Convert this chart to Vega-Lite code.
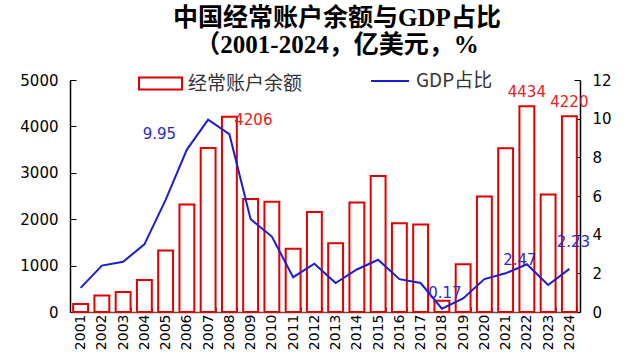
{
  "$schema": "https://vega.github.io/schema/vega-lite/v6.json",
  "width": 510,
  "height": 232,
  "autosize": {"type": "none"},
  "padding": {"left": 70, "top": 80, "right": 50, "bottom": 51},
  "background": "white",
  "title": {
    "text": ["中国经常账户余额与GDP占比", "（2001-2024，亿美元，%"],
    "font": "Liberation Serif, Noto Sans CJK SC",
    "fontSize": 25,
    "fontWeight": "bold",
    "color": "#000000",
    "anchor": "middle",
    "dx": 12,
    "offset": 3,
    "lineHeight": 27
  },
  "config": {"view": {"stroke": null}, "axis": {"grid": false}},
  "data": {
    "values": [
      {"year": "2001", "ca": 170, "ratio": 1.25},
      {"year": "2002", "ca": 354, "ratio": 2.4},
      {"year": "2003", "ca": 431, "ratio": 2.6},
      {"year": "2004", "ca": 689, "ratio": 3.5},
      {"year": "2005", "ca": 1324, "ratio": 5.8},
      {"year": "2006", "ca": 2318, "ratio": 8.4},
      {"year": "2007", "ca": 3532, "ratio": 9.95},
      {"year": "2008", "ca": 4206, "ratio": 9.2},
      {"year": "2009", "ca": 2433, "ratio": 4.8},
      {"year": "2010", "ca": 2378, "ratio": 3.9},
      {"year": "2011", "ca": 1361, "ratio": 1.8},
      {"year": "2012", "ca": 2154, "ratio": 2.5},
      {"year": "2013", "ca": 1482, "ratio": 1.5},
      {"year": "2014", "ca": 2360, "ratio": 2.2},
      {"year": "2015", "ca": 2930, "ratio": 2.7},
      {"year": "2016", "ca": 1913, "ratio": 1.7},
      {"year": "2017", "ca": 1887, "ratio": 1.5},
      {"year": "2018", "ca": 241, "ratio": 0.17},
      {"year": "2019", "ca": 1029, "ratio": 0.7},
      {"year": "2020", "ca": 2488, "ratio": 1.7},
      {"year": "2021", "ca": 3529, "ratio": 2.0},
      {"year": "2022", "ca": 4434, "ratio": 2.47},
      {"year": "2023", "ca": 2530, "ratio": 1.4},
      {"year": "2024", "ca": 4220, "ratio": 2.23}
    ]
  },
  "encoding": {
    "x": {
      "field": "year",
      "type": "ordinal",
      "scale": {"paddingInner": 0.3, "paddingOuter": 0.15},
      "axis": {
        "title": null,
        "labelAngle": -90,
        "labelFont": "DejaVu Sans",
        "labelFontSize": 14,
        "labelColor": "#000000",
        "domainColor": "#555555",
        "domainWidth": 1.5,
        "tickBand": "extent",
        "tickSize": -5,
        "tickColor": "#555555",
        "labelPadding": 7
      }
    }
  },
  "layer": [
    {
      "encoding": {
        "y": {
          "field": "ca",
          "type": "quantitative",
          "scale": {"domain": [0, 5000], "nice": false},
          "axis": {
            "title": null,
            "orient": "left",
            "values": [0, 1000, 2000, 3000, 4000, 5000],
            "format": "d",
            "labelFont": "DejaVu Sans",
            "labelFontSize": 15,
            "labelColor": "#000000",
            "domainColor": "#000000",
            "domainWidth": 1.5,
            "tickColor": "#000000",
            "tickSize": -6,
            "labelPadding": 18
          }
        }
      },
      "layer": [
        {
          "mark": {"type": "bar", "fill": "white", "strokeWidth": 2},
          "encoding": {
            "stroke": {
              "datum": "经常账户余额",
              "scale": {"range": ["#e00000"]},
              "legend": {
                "title": null,
                "orient": "none",
                "legendX": 68,
                "legendY": -19,
                "symbolType": "M-1,-0.28L1,-0.28L1,0.28L-1,0.28Z",
                "symbolSize": 1849,
                "symbolStrokeWidth": 2,
                "symbolFillColor": "white",
                "labelFont": "Noto Sans CJK SC",
                "labelFontSize": 19,
                "labelColor": "#333333",
                "labelOffset": 5
              }
            }
          }
        },
        {
          "transform": [{"filter": "datum.year == '2008'"}],
          "mark": {"type": "text", "font": "DejaVu Sans", "fontSize": 15, "color": "#e82020", "dx": 24, "dy": 3},
          "encoding": {"text": {"field": "ca", "type": "quantitative", "format": "d"}}
        },
        {
          "transform": [{"filter": "datum.year == '2022' || datum.year == '2024'"}],
          "mark": {"type": "text", "font": "DejaVu Sans", "fontSize": 15, "color": "#e82020", "dy": -14},
          "encoding": {"text": {"field": "ca", "type": "quantitative", "format": "d"}}
        }
      ]
    },
    {
      "encoding": {
        "y": {
          "field": "ratio",
          "type": "quantitative",
          "scale": {"domain": [0, 12], "nice": false},
          "axis": {
            "title": null,
            "orient": "right",
            "values": [0, 2, 4, 6, 8, 10, 12],
            "labelFont": "DejaVu Sans",
            "labelFontSize": 15,
            "labelColor": "#000000",
            "domainColor": "#000000",
            "domainWidth": 1.5,
            "tickColor": "#000000",
            "tickSize": -6,
            "labelPadding": 18
          }
        }
      },
      "layer": [
        {
          "mark": {"type": "line", "strokeWidth": 2},
          "encoding": {
            "color": {
              "datum": "GDP占比",
              "scale": {"range": ["#1c1cd0"]},
              "legend": {
                "title": null,
                "orient": "none",
                "legendX": 300,
                "legendY": -19,
                "symbolType": "stroke",
                "symbolSize": 1444,
                "symbolStrokeWidth": 2,
                "labelFont": "Noto Sans CJK SC",
                "labelFontSize": 19,
                "labelColor": "#333333",
                "labelOffset": 6
              }
            }
          }
        },
        {
          "transform": [{"filter": "datum.year == '2007'"}],
          "mark": {"type": "text", "font": "DejaVu Sans", "fontSize": 15, "color": "#2a2acc", "align": "right", "dx": -32, "dy": 14},
          "encoding": {"text": {"field": "ratio", "type": "quantitative", "format": ".2f"}}
        },
        {
          "transform": [{"filter": "datum.year == '2018'"}],
          "mark": {"type": "text", "font": "DejaVu Sans", "fontSize": 15, "color": "#2a2acc", "dx": 3, "dy": -16},
          "encoding": {"text": {"field": "ratio", "type": "quantitative", "format": ".2f"}}
        },
        {
          "transform": [{"filter": "datum.year == '2022'"}],
          "mark": {"type": "text", "font": "DejaVu Sans", "fontSize": 15, "color": "#2a2acc", "dx": -7, "dy": -4},
          "encoding": {"text": {"field": "ratio", "type": "quantitative", "format": ".2f"}}
        },
        {
          "transform": [{"filter": "datum.year == '2024'"}],
          "mark": {"type": "text", "font": "DejaVu Sans", "fontSize": 15, "color": "#2a2acc", "dx": 4, "dy": -27},
          "encoding": {"text": {"field": "ratio", "type": "quantitative", "format": ".2f"}}
        }
      ]
    }
  ],
  "resolve": {"scale": {"y": "independent"}}
}
